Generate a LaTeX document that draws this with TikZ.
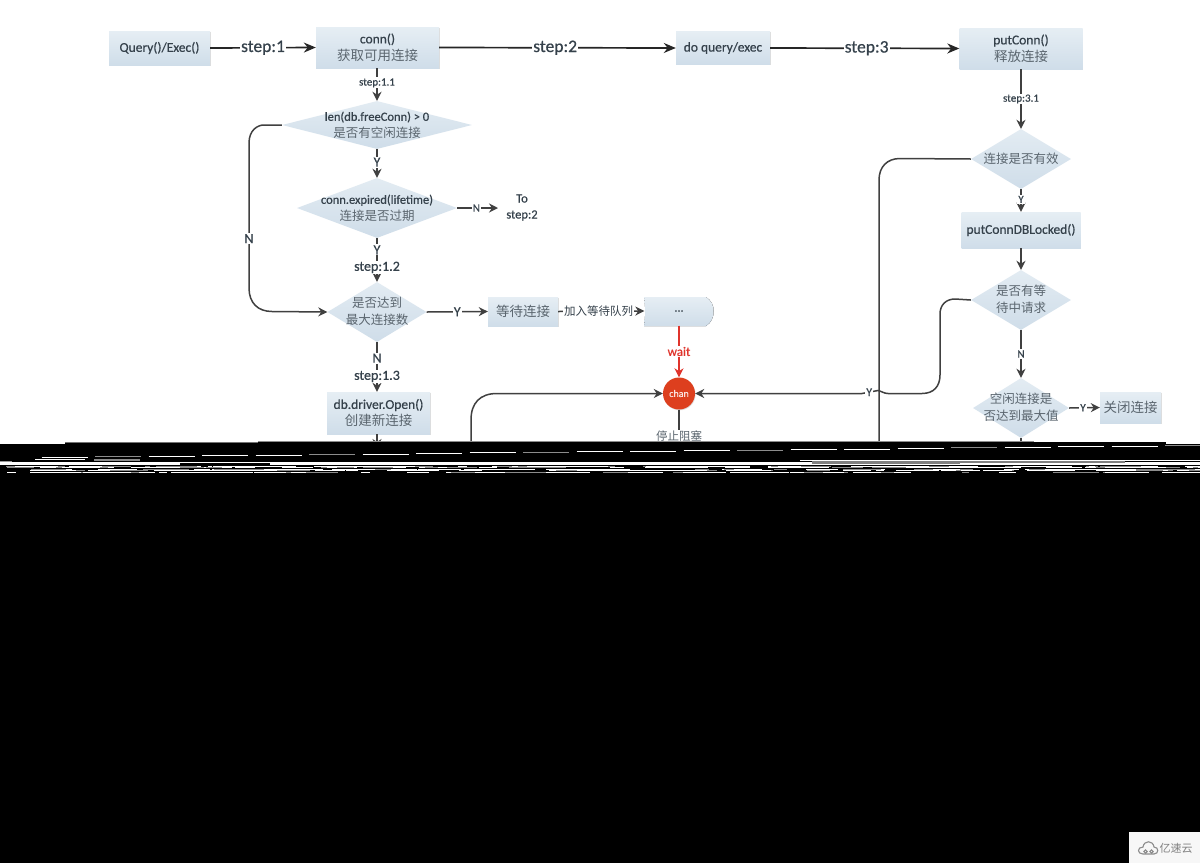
\documentclass[tikz,border=0pt]{standalone}
\usepackage{fontspec}
\setmainfont{Carlito}[RawFeature={embolden=0.5}]
\newfontfamily\cjk{Noto Sans CJK SC}
\usetikzlibrary{arrows.meta,shapes.geometric,shadows,calc}
\definecolor{boxtop}{HTML}{E6EEF4}
\definecolor{boxbot}{HTML}{CFDDE9}
\definecolor{ink}{HTML}{35414B}
\definecolor{cnink}{HTML}{5A656E}
\definecolor{wire}{HTML}{404040}
\definecolor{redw}{HTML}{E0342C}
\definecolor{chanred}{HTML}{DD3F1E}
\newcommand\zh[1]{{\cjk\color{cnink}#1}}
\newcommand\dlab[1]{\smash{\makebox[0pt]{\raisebox{-0.3em}{\begin{tabular}[c]{@{}c@{}}#1\end{tabular}}}}}
\tikzset{
  x=1pt,y=-1pt,
  boxn/.style={rectangle,top color=boxtop,bottom color=boxbot,inner sep=0pt,align=center,
    text=ink,font=\fontsize{13.5}{17}\selectfont,
    drop shadow={shadow xshift=.7pt,shadow yshift=-.7pt,opacity=.22,fill=black!60}},
  dia/.style={diamond,top color=boxtop!85!boxbot,bottom color=boxbot,inner sep=0pt,text=ink,
    font=\fontsize{12.5}{16.5}\selectfont,shape aspect=1},
  wireb/.style={draw=wire,line width=1.5pt},
  flow/.style={wireb,-{Stealth[length=9pt,width=9pt]}},
  bigflow/.style={draw=black!85,line width=1.7pt,-{Stealth[length=12pt,width=10pt]}},
  smalllab/.style={fill=white,inner sep=1pt,text=ink,font=\fontsize{11}{13}\selectfont},
  midlab/.style={fill=white,inner sep=1pt,text=ink,font=\fontsize{14}{16}\selectfont},
  biglab/.style={fill=white,inner sep=1pt,text=ink,font=\fontsize{17.5}{20}\selectfont},
}
\begin{document}
\begin{tikzpicture}
\useasboundingbox (0,0) rectangle (1200,863);
\fill[white] (0,0) rectangle (1200,863);
% boxes
\node[boxn,minimum width=101pt,minimum height=34pt] (query) at (159.5,48) {Query()/Exec()};
\node[boxn,minimum width=123pt,minimum height=41pt] (conn) at (377.5,47.5) {conn()\\\zh{获取可用连接}};
\node[boxn,minimum width=94pt,minimum height=33pt] (doq) at (723,48) {do query/exec};
\node[boxn,minimum width=123pt,minimum height=41pt] (put) at (1021,48.5) {putConn()\\\zh{释放连接}};
\node[boxn,minimum width=119pt,minimum height=36pt] (locked) at (1021,230) {putConnDBLocked()};
\node[boxn,minimum width=70pt,minimum height=29pt] (waitb) at (523,311.5) {\zh{等待连接}};
\node[boxn,minimum width=103pt,minimum height=42pt] (open) at (378.5,413) {db.driver.Open()\\\zh{创建新连接}};
\node[boxn,minimum width=61pt,minimum height=31pt] (close) at (1130.5,407.5) {\zh{关闭连接}};
% diamonds
\node[dia,minimum width=190pt,minimum height=48pt] (d1) at (377,125) {\dlab{len(db.freeConn) > 0\\\zh{是否有空闲连接}}};
\node[dia,minimum width=160pt,minimum height=60pt] (d2) at (377,208) {\dlab{conn.expired(lifetime)\\\zh{连接是否过期}}};
\node[dia,minimum width=99pt,minimum height=60pt] (d3) at (377,312) {\dlab{\zh{是否达到}\\\zh{最大连接数}}};
\node[dia,minimum width=100pt,minimum height=60pt] (v1) at (1021,159) {\dlab{\zh{连接是否有效}}};
\node[dia,minimum width=100pt,minimum height=60pt] (v2) at (1021,300) {\dlab{\zh{是否有等}\\\zh{待中请求}}};
\node[dia,minimum width=96pt,minimum height=60pt] (v3) at (1021,408) {\dlab{\zh{空闲连接是}\\\zh{否达到最大值}}};
% queue
\fill[top color=boxtop,bottom color=boxbot] (644,297) -- (706,297) .. controls (711,300) and (714,306) .. (713.5,311) .. controls (714,317) and (711,323) .. (706,326) -- (644,326) .. controls (645.5,317) and (645.5,306) .. (644,297) -- cycle;
\node[inner sep=0pt,minimum width=69pt,minimum height=29pt,text=ink,font=\fontsize{12}{14}\selectfont] (queue) at (679,311) {...};
% chan
\node[circle,fill=chanred,minimum size=32pt,inner sep=0pt,text=white!85!chanred,font=\fontsize{10}{12}\selectfont,drop shadow={shadow xshift=.6pt,shadow yshift=-.8pt,opacity=.25}] (chan) at (679,393.5) {chan};
% to step 2
\node[align=center,inner sep=0pt,text=ink,font=\fontsize{12.5}{16}\selectfont] (tostep) at (522,207.5) {To\\step:2};
\coordinate (toTip) at (498,208);
% free ends running into the black band
\coordinate (openEnd) at (377,448);
\coordinate (stopEnd) at (679,448);
\coordinate (backEnd) at (471,448);
\coordinate (invEnd) at (879,448);
\coordinate (v3End) at (1021,448);
% top row
\draw[bigflow] (query.east) -- node[biglab] (ls1) {step:1} (conn.west);
\draw[bigflow] (conn.east) -- node[biglab,pos=.49] (ls2) {step:2} (doq.west);
\draw[bigflow] (doq.east) -- node[biglab,pos=.51] (ls3) {step:3} (put.west);
% left column
\draw[flow] (d1.north |- conn.south) -- node[smalllab,pos=.45] (ls11) {step:1.1} (d1.north);
\draw[flow] (d1.south) -- node[midlab,pos=.45] (lY1) {Y} (d2.north);
\draw[flow] (d2.east) -- node[smalllab,pos=.47] (lN2) {N} (toTip);
\draw[flow] (d2.south) -- node[midlab,pos=.27] (lY2) {Y} node[midlab,pos=.67] (ls12) {step:1.2} (d3.north);
\draw[flow] (d3.south) -- node[midlab,pos=.32] (lN3) {N} node[midlab,pos=.69] (ls13) {step:1.3} (d3.south |- open.north);
\draw[flow] (d1.west) -- ++(-18,0) .. controls +(-6,0) and (249,130) .. (249,143) -- node[midlab,pos=.66] (lN1) {N} (249,288) .. controls (249,303) and (258,311.5) .. (272,311.5) -- (d3.west);
\draw[flow] (d3.east) -- node[midlab] (lY3) {Y} (waitb.west);
\draw[flow] (waitb.east) -- node[smalllab,pos=.47,font=\fontsize{11.5}{13}\selectfont\cjk\color{cnink}] (lq) {加入等待队列} (queue.west);
\draw[redw,line width=1.5pt,-{Stealth[length=9pt,width=9pt]}] (queue.south) -- node[fill=white,inner sep=1pt,text=redw,font=\fontsize{13}{15}\selectfont,pos=.5] (lwait) {wait} (chan.north);
\draw[wireb] (chan.south) -- node[pos=.7,fill=white,inner sep=1pt,text=cnink,font=\fontsize{11.5}{13}\selectfont\cjk] (lstop) {停止阻塞} (stopEnd);
\draw[flow] (openEnd |- open.south) -- (openEnd);
\draw[flow] (backEnd) -- (471,420) .. controls (471,403) and (480,393.5) .. (497,393.5) -- (chan.west);
% right column
\draw[flow] (put.south) -- node[smalllab,pos=.5] (ls31) {step:3.1} (v1.north);
\draw[flow] (v1.south) -- node[smalllab,pos=.45] (lYv) {Y} (locked.north);
\draw[flow] (locked.south) -- (v2.north);
\draw[flow] (v2.south) -- node[smalllab,pos=.5] (lNv) {N} (v3.north);
\draw[flow] (v3.east) -- node[smalllab,pos=.45] (lYc) {Y} (close.west);
\draw[wireb] (v3.south) -- (v3End);
\draw[wireb] (v1.west) -- (900,158.5) .. controls (887,158.5) and (879,167) .. (879,180) -- (invEnd);
\draw[flow] (v2.west) -- (955,299) .. controls (946,299) and (940,305) .. (940,314) -- (940,375) .. controls (940,386) and (934,393.5) .. (922,393.5) -- (888,393.5) .. controls (884,393.5) and (881,391) .. (878,390.5) -- node[smalllab,pos=.55,font=\fontsize{12}{14}\selectfont] (lYq) {Y} (862,393.5) -- (chan.east);
% black band
\fill[black] (0,442) -- (1200,442) -- (1200,863) -- (0,863) -- cycle;
\draw[black!55,line width=.8pt] (65,442) -- (258,442);
\fill[white] (0,442) rectangle (65,443.5);
\draw[black!45,line width=.8pt] (258,441.5) -- (1034,441.5);
\fill[white] (1034,441) rectangle (1200,442.4);
\fill[white] (1166,442.4) rectangle (1200,444);
% broken dashes
\foreach \k in {-7,...,14} {
  \pgfmathsetmacro{\xa}{416+53.5*\k}
  \pgfmathsetmacro{\ya}{453.5-0.0105*(\xa-416)}
  \pgfmathsetmacro{\gr}{mod(\k+70,4)==0?55:100}
  \draw[line width=1pt,white!\gr!black] (\xa,\ya) -- (\xa+46,\ya);
}
% noisy band
\fill[white] (0,462) rectangle (1200,465);
\fill[black!40] (0,461) rectangle (12,462);
\fill[black!45] (94,459) rectangle (140,460.5);
\fill[white] (35,459) rectangle (85,460);
\fill[white] (800,459.5) rectangle (1200,461);
\fill[black!50] (812,461) rectangle (960,463.5);
\fill[black!50] (960,461) rectangle (1125,462.5);
\fill[black] (180,463) rectangle (270,465);
\pgfmathsetseed{4242}
\foreach \row in {465.5,467,468.5,470,471.5} {
  \foreach \i in {1,...,70} {
    \pgfmathsetmacro{\xs}{rnd*1200}
    \pgfmathsetmacro{\len}{4+rnd*42}
    \pgfmathsetmacro{\g}{rnd>0.7?55:100}
    \fill[white!\g!black] (\xs,\row) rectangle (\xs+\len,\row+1.3);
  }
}
% watermark
\fill[white!97!black] (1129,832) rectangle (1200,863);
\begin{scope}[draw=black!45,line width=1.1pt,fill=none]
\draw (1143,854) .. controls (1137,854) and (1137,847) .. (1143,847) .. controls (1144,840) and (1153,840) .. (1154,847) .. controls (1159,847) and (1159,854) .. (1154,854) -- cycle;
\draw (1145.5,851.5) circle (1.7pt);
\draw (1151.5,851.5) circle (1.7pt);
\end{scope}
\node[inner sep=0pt,text=black!50,font=\fontsize{11}{13}\selectfont\cjk] (wm) at (1176,848) {亿速云};
\end{tikzpicture}
\end{document}
